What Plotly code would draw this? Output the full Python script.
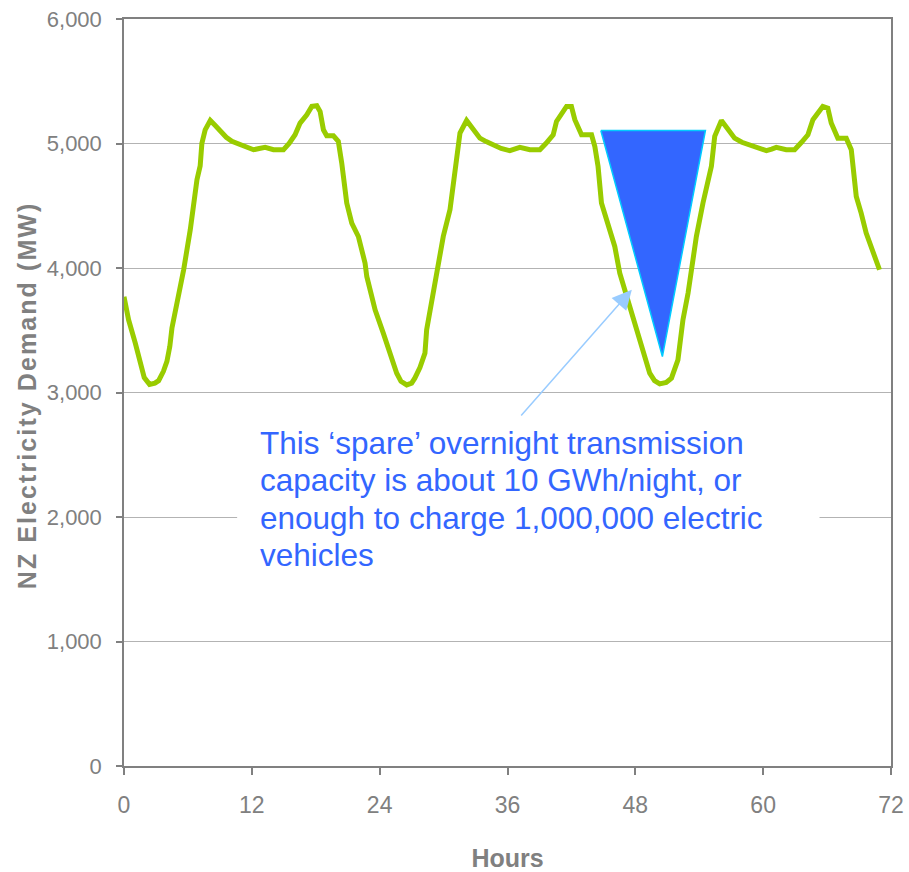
import plotly.graph_objects as go

# NZ electricity demand over three days (hours, MW)
hours = [
    0, 0.43, 1.06, 1.69, 1.9, 2.4, 2.9, 3.25, 3.7, 4.03, 4.3, 4.5, 5.12, 5.6,
    6.22, 6.85, 7.15, 7.31, 7.62, 8.1, 8.5, 9.03, 9.6, 10.13, 11.22, 12.16,
    12.7, 13.25, 14.03, 14.97, 15.5, 16.06, 16.53, 17.16, 17.63, 18.1, 18.41,
    18.72, 19.03, 19.66, 20.12, 20.44, 20.91, 21.38, 22.0, 22.63, 22.79, 23.57,
    24.34, 25.13, 25.6, 26.0, 26.54, 27.0, 27.3, 27.78, 28.25, 28.41, 29.03,
    29.97, 30.6, 31.22, 31.54, 32.16, 32.8, 33.41, 34.0, 34.66, 35.4, 36.22,
    36.7, 37.16, 38.1, 39.04, 39.6, 40.29, 40.6, 41.1, 41.54, 42.0, 42.32,
    42.95, 43.89, 44.2, 44.5, 44.82, 45.44, 46.07, 46.54, 47.64, 48.72, 49.35,
    49.8, 50.29, 50.9, 51.39, 52.0, 52.47, 52.95, 53.73, 54.35, 55.14, 55.45,
    56.08, 56.38, 57.32, 58.0, 58.73, 59.5, 60.3, 60.8, 61.23, 62.17, 62.95,
    63.6, 64.2, 64.67, 65.1, 65.6, 66.07, 66.39, 67.01, 67.8, 68.27, 68.74,
    69.2, 69.67, 70.92,
]
demand_mw = [
    3770, 3584, 3397, 3209, 3120, 3065, 3075, 3095, 3170, 3250, 3370, 3517, 3771, 3986,
    4307, 4709, 4820, 5000, 5110, 5185, 5150, 5097, 5050, 5017, 4976, 4950,
    4960, 4969, 4950, 4950, 5000, 5070, 5164, 5231, 5298, 5303, 5257,
    5110, 5062, 5062, 5017, 4843, 4522, 4361, 4253, 4039, 3932, 3664,
    3477, 3289, 3155, 3090, 3061, 3075, 3115, 3200, 3316, 3503, 3798,
    4253, 4468, 4843, 5084, 5185, 5110, 5043, 5015, 4990, 4960, 4942,
    4955, 4969, 4950, 4950, 5000, 5070, 5177, 5240, 5298, 5298, 5191,
    5070, 5070, 4976, 4816, 4522, 4334, 4173, 3959, 3638, 3316, 3155,
    3095, 3069, 3080, 3115, 3262, 3584, 3798, 4253, 4522, 4816, 5057,
    5185, 5151, 5043, 5010, 4990, 4960, 4942, 4955, 4969, 4950, 4950,
    5010, 5070, 5191, 5240, 5298, 5284, 5164, 5043, 5043, 4950, 4575,
    4441, 4280, 3986,
]

# Spare overnight capacity wedge (hours, MW)
wedge_hours = [44.76, 54.58, 50.54, 44.76]
wedge_mw = [5105, 5105, 3289, 5105]

x_ticks = [0, 12, 24, 36, 48, 60, 72]
y_ticks = [0, 1000, 2000, 3000, 4000, 5000, 6000]
y_tick_text = ["0", "1,000", "2,000", "3,000", "4,000", "5,000", "6,000"]

note_lines = [
    "This \u2018spare\u2019 overnight transmission",
    "capacity is about 10 GWh/night, or",
    "enough to charge 1,000,000 electric",
    "vehicles",
]
note_line_mw = [2597, 2296, 1994, 1697]   # vertical centre of each note line

GREY = "#808080"
SANS = "Liberation Sans, Arial, sans-serif"

fig = go.Figure()
fig.add_trace(go.Scatter(
    x=hours, y=demand_mw, mode="lines",
    line=dict(color="#99CC00", width=5),
    showlegend=False, hoverinfo="skip",
))
fig.add_trace(go.Scatter(
    x=wedge_hours, y=wedge_mw, mode="lines", fill="toself",
    fillcolor="#3366FF", line=dict(color="#00CCFF", width=1.5),
    showlegend=False, hoverinfo="skip",
))

# letter-spaced vertical axis title
y_title = "\u200a".join(list("NZ Electricity Demand (MW)"))

# white panel behind the note so the gridline breaks around it
fig.add_shape(type="rect", xref="x", yref="y", x0=10.62, x1=65.29, y0=1326, y1=2917,
              fillcolor="white", line=dict(width=0), layer="between")

annotations = [dict(
    x=-0.1265, y=0.495, xref="paper", yref="paper", xanchor="center", yanchor="middle",
    text=y_title, textangle=-90, showarrow=False,
    font=dict(family=SANS, size=25, color=GREY, weight="bold"),
)]
for line_text, mw in zip(note_lines, note_line_mw):
    annotations.append(dict(
        x=12.6, y=mw, xref="x", yref="y", xanchor="left", yanchor="middle",
        text=line_text, showarrow=False, align="left",
        font=dict(family=SANS, size=31.5, color="#3366FF"),
    ))
annotations.append(dict(
    x=47.67, y=3825, ax=37.16, ay=2804, xref="x", yref="y",
    axref="x", ayref="y", text="", showarrow=True,
    arrowhead=2, arrowsize=2.6, arrowwidth=1.5, arrowcolor="#99CCFF",
))

fig.update_layout(
    width=909, height=872,
    margin=dict(l=124, r=18, t=19, b=106),
    paper_bgcolor="white", plot_bgcolor="white",
    xaxis=dict(
        range=[0, 72], tickvals=x_ticks, ticks="outside", ticklen=7,
        tickcolor=GREY, tickwidth=1.5, showgrid=False, zeroline=False,
        showline=True, linecolor=GREY, linewidth=1.5, mirror=True,
        automargin=False, ticklabelstandoff=11,
        tickfont=dict(family=SANS, size=23, color=GREY),
        title=dict(text="Hours", standoff=36,
                   font=dict(family=SANS, size=25, color=GREY, weight="bold")),
    ),
    yaxis=dict(
        range=[0, 6000], tickvals=y_ticks, ticktext=y_tick_text,
        ticks="outside", ticklen=6, tickcolor=GREY, tickwidth=1.5,
        showgrid=True, gridcolor="#B3B3B3", gridwidth=1, zeroline=False,
        showline=True, linecolor=GREY, linewidth=1.5, mirror=True,
        automargin=False, ticklabelstandoff=10,
        tickfont=dict(family=SANS, size=22, color=GREY),
    ),
    annotations=annotations,
)

fig.write_html("out.html")
